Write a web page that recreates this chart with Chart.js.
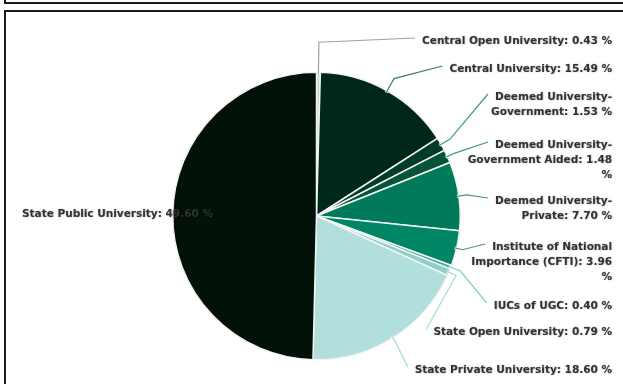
<!DOCTYPE html>
<html><head><meta charset="utf-8">
<script src="https://cdn.jsdelivr.net/npm/chart.js@4/dist/chart.umd.min.js"></script>
<style>
html,body{margin:0;padding:0;background:#fff;width:623px;height:384px;overflow:hidden}
#top{position:absolute;left:4px;top:-10px;width:640px;height:10px;border:2px solid #1a1a1a;}
#frame{position:absolute;left:4px;top:10px;width:640px;height:400px;border:2px solid #1a1a1a;}
#wrap{position:absolute;left:0;top:0;width:623px;height:384px}
</style></head><body>
<div id="top"></div><div id="frame"></div>
<div id="wrap"><canvas id="c"></canvas></div>
<script>
const categories = ["Central Open University", "Central University", "Deemed University-Government", "Deemed University-Government Aided", "Deemed University-Private", "Institute of National Importance (CFTI)", "IUCs of UGC", "State Open University", "State Private University", "State Public University"];
const shares = [0.43, 15.49, 1.53, 1.48, 7.70, 3.96, 0.40, 0.79, 18.60, 49.60];
const sliceColors = ["#cdd3d0", "#00281a", "#033d27", "#06533a", "#007a58", "#008664", "#3fae95", "#8fd0c6", "#b0dfdc", "#021209"];
const lineColors = ["#9aa6a0", "#3e7e66", "#3f9a80", "#3f9a80", "#3f9a80", "#3f9a80", "#7fcfc0", "#a6dcd6", "#a6dcd6", "#021209"];

const labelPlugin = {
  id: 'outLabels',
  afterDatasetsDraw(chart, args, opts) {
    const ctx = chart.ctx;
    const meta = chart.getDatasetMeta(0);
    ctx.save();
    ctx.font = opts.font;
    ctx.textBaseline = 'middle';
    meta.data.forEach((arc, i) => {
      const text = categories[i] + ': ' + shares[i].toFixed(2) + ' %';
      const lines = wrap(ctx, text, opts.wrapWidths[i]);
      const ly = opts.labelY[i];
      const left = opts.leftLabel[i];
      const firstLeft = left !== null ? left : opts.rightEdge - ctx.measureText(lines[0]).width;
      const mid = (arc.startAngle + arc.endAngle) / 2;
      if (left === null) {
        const r = arc.outerRadius;
        const ex = arc.x + Math.cos(mid) * (r - 2), ey = arc.y + Math.sin(mid) * (r - 2);
        const e2 = opts.elbow[i];
        const bx = arc.x + Math.cos(mid) * (r + e2), by = arc.y + Math.sin(mid) * (r + e2);
        ctx.beginPath();
        ctx.moveTo(ex, ey); ctx.lineTo(bx, by); ctx.lineTo(firstLeft - 7, ly - 3);
        ctx.strokeStyle = 'rgba(255,255,255,0.9)'; ctx.lineWidth = 3; ctx.stroke();
        ctx.strokeStyle = lineColors[i]; ctx.lineWidth = 1.2; ctx.stroke();
      }
      ctx.shadowColor = 'rgba(0,0,0,0.35)'; ctx.shadowBlur = 1.5; ctx.shadowOffsetX = 0.5; ctx.shadowOffsetY = 0.5;
      ctx.fillStyle = '#333';
      lines.forEach((l, k) => {
        if (left !== null) { ctx.textAlign = 'left'; ctx.fillText(l, left, ly + k * opts.lineHeight); }
        else { ctx.textAlign = 'right'; ctx.fillText(l, opts.rightEdge, ly + k * opts.lineHeight); }
      });
      ctx.shadowColor = 'transparent';
    });
    ctx.restore();
  }
};
function wrap(ctx, text, maxW) {
  const tokens = text.match(/[^ \-]+-?|\s+/g);
  const lines = []; let cur = '';
  tokens.forEach(t => {
    const test = cur + t;
    if (cur.trim() !== '' && ctx.measureText(test.trim()).width > maxW) { lines.push(cur.trim()); cur = t.trim(); }
    else cur = test;
  });
  if (cur.trim()) lines.push(cur.trim());
  return lines;
}

new Chart(document.getElementById('c'), {
  type: 'pie',
  data: { labels: categories, datasets: [{ data: shares, backgroundColor: sliceColors, borderColor: '#f2f4f3', borderWidth: 1.5 }] },
  options: {
    responsive: true, maintainAspectRatio: false, animation: false,
    layout: { padding: { left: 172, right: 162, top: 71, bottom: 23 } },
    plugins: {
      legend: { display: false }, tooltip: { enabled: false },
      outLabels: {
        font: 'bold 10.5px "DejaVu Sans", sans-serif',
        rightEdge: 612, lineHeight: 15,
        wrapWidths: [240, 240, 150, 150, 150, 150, 240, 240, 240, 400],
        labelY: [41, 69, 97, 145, 201, 247, 306, 332, 370, 214],
        leftLabel: [null, null, null, null, null, null, null, null, null, 22],
        elbow: [30, 14, 10, 6, 8, 6, 10, 8, 6, 0]
      }
    }
  },
  plugins: [labelPlugin]
});
</script>
</body></html>
